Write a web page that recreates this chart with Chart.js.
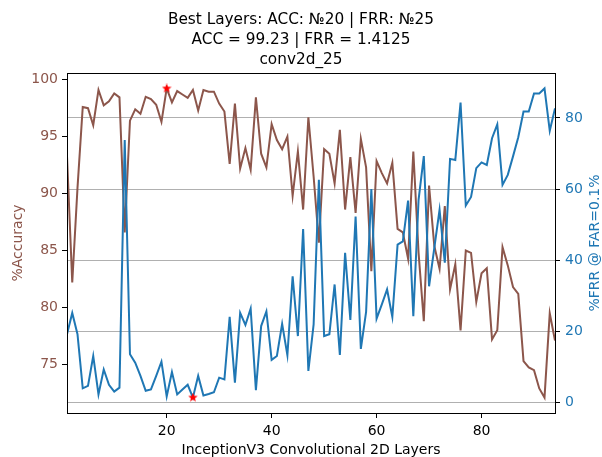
<!DOCTYPE html>
<html>
<head>
<meta charset="utf-8">
<script src="https://cdn.jsdelivr.net/npm/chart.js@4"></script>
<style>
  html, body { margin: 0; padding: 0; background: #ffffff; }
  #wrap { width: 602px; height: 457px; }
</style>
</head>
<body>
<div id="wrap"><canvas id="layersChart" width="602" height="457"></canvas></div>
<script>
const layers = [
  1, 2, 3, 4, 5, 6, 7, 8, 9, 10, 11, 12, 13, 14, 15, 16, 17, 18, 19, 20,
  21, 22, 23, 24, 25, 26, 27, 28, 29, 30, 31, 32, 33, 34, 35, 36, 37, 38, 39, 40,
  41, 42, 43, 44, 45, 46, 47, 48, 49, 50, 51, 52, 53, 54, 55, 56, 57, 58, 59, 60,
  61, 62, 63, 64, 65, 66, 67, 68, 69, 70, 71, 72, 73, 74, 75, 76, 77, 78, 79, 80,
  81, 82, 83, 84, 85, 86, 87, 88, 89, 90, 91, 92, 93, 94,
];

const accuracy = [
  93.3, 82.2, 90.5, 97.6, 97.5, 96.0, 99.1, 97.75, 98.1, 98.8,
  98.45, 86.6, 96.4, 97.4, 97.0, 98.5, 98.3, 97.8, 96.3, 99.23,
  98.0, 99.0, 98.7, 98.4, 99.1, 97.3, 99.1, 98.95, 98.95, 97.9,
  97.2, 92.6, 97.9, 92.2, 94.0, 92.1, 98.45, 93.5, 92.3, 96.1,
  94.7, 93.9, 95.0, 89.8, 93.7, 88.6, 96.7, 91.5, 85.7, 93.9,
  93.5, 90.9, 95.6, 88.6, 93.2, 88.3, 94.8, 92.3, 83.2, 92.85,
  91.8, 90.9, 92.7, 86.9, 86.6, 84.3, 93.7, 84.8, 78.8, 90.7,
  85.4, 83.4, 88.9, 81.6, 83.8, 78.0, 85.0, 84.8, 80.5, 83.0,
  83.45, 77.2, 78.0, 85.3, 83.7, 81.8, 81.2, 75.3, 74.75, 74.5,
  72.9, 72.1, 79.5, 77.1,
];

const frr = [
  19.2, 25.2, 19.2, 4.0, 4.7, 13.1, 2.3, 9.3, 5.0, 3.1,
  4.2, 73.8, 13.6, 11.2, 7.5, 3.3, 3.7, 7.5, 11.5, 1.7,
  8.6, 2.3, 3.7, 5.0, 1.4125, 7.5, 2.0, 2.4, 2.9, 7.0,
  6.5, 24.1, 5.6, 25.2, 21.8, 26.4, 3.5, 21.5, 25.6, 12.0,
  13.1, 22.1, 13.3, 35.5, 18.7, 48.8, 8.9, 22.0, 62.6, 18.7,
  19.2, 33.2, 13.4, 42.1, 23.2, 52.3, 15.1, 25.5, 60.0, 23.6,
  27.6, 31.8, 24.1, 44.4, 45.3, 56.8, 24.3, 57.0, 69.3, 32.7,
  43.5, 54.2, 39.3, 68.5, 68.2, 84.3, 55.4, 57.8, 65.9, 67.5,
  66.8, 74.3, 78.2, 61.2, 64.0, 69.2, 74.6, 81.8, 81.8, 86.9,
  86.9, 88.3, 76.4, 82.7,
];

const xTicks = [20, 40, 60, 80];
const accTicks = [75, 80, 85, 90, 95, 100];
const frrTicks = [0, 20, 40, 60, 80];

const titleLines = [
  "Best Layers: ACC: №20 | FRR: №25",
  "ACC = 99.23 | FRR = 1.4125",
  "conv2d_25",
];

(() => {
  const palette = {
    acc: "#8c564b",
    frr: "#1f77b4",
    best: "#ff0000",
    grid: "#b0b0b0",
    frame: "#000000",
  };
  const fontFamily = "'DejaVu Sans', sans-serif";

  // matplotlib style 5% margin around the data
  function paddedRange(values) {
    const lo = Math.min(...values);
    const hi = Math.max(...values);
    const pad = (hi - lo) * 0.05;
    return { min: lo - pad, max: hi + pad };
  }

  function makeStar(size, color) {
    const c = document.createElement("canvas");
    c.width = size;
    c.height = size;
    const g = c.getContext("2d");
    const r = size / 2;
    g.beginPath();
    for (let k = 0; k < 10; k++) {
      const ang = -Math.PI / 2 + (k * Math.PI) / 5;
      const rr = k % 2 ? r * 0.42 : r;
      g.lineTo(r + rr * Math.cos(ang), r + rr * Math.sin(ang));
    }
    g.closePath();
    g.fillStyle = color;
    g.fill();
    return c;
  }

  function fixedTicks(list) {
    return (scale) => {
      scale.ticks = list.map((v) => ({ value: v }));
    };
  }

  const bestAcc = accuracy.indexOf(Math.max(...accuracy));
  const bestFrr = frr.indexOf(Math.min(...frr));
  const accRange = paddedRange(accuracy);
  const frrRange = paddedRange(frr);
  const star = makeStar(10, palette.best);

  const framePlugin = {
    id: "frame",
    afterDraw(chart) {
      const { ctx, chartArea } = chart;
      ctx.save();
      ctx.strokeStyle = palette.frame;
      ctx.lineWidth = 1;
      ctx.strokeRect(
        Math.round(chartArea.left) + 0.5,
        Math.round(chartArea.top) + 0.5,
        Math.round(chartArea.right - chartArea.left),
        Math.round(chartArea.bottom - chartArea.top)
      );
      // right axis title reads bottom-to-top like matplotlib
      ctx.translate(595, (chartArea.top + chartArea.bottom) / 2);
      ctx.rotate(-Math.PI / 2);
      ctx.fillStyle = palette.frr;
      ctx.font = "14px " + fontFamily;
      ctx.textAlign = "center";
      ctx.textBaseline = "middle";
      ctx.fillText("%FRR @ FAR=0.1%", 0, 0);
      ctx.restore();
    },
  };

  const ctx = document.getElementById("layersChart").getContext("2d");
  new Chart(ctx, {
    type: "line",
    data: {
      datasets: [
        {
          label: "best",
          type: "scatter",
          data: [
            { x: layers[bestAcc], y: accuracy[bestAcc] },
          ],
          yAxisID: "y",
          pointStyle: star,
          pointRadius: 5,
          order: 0,
        },
        {
          label: "best frr",
          type: "scatter",
          data: [{ x: layers[bestFrr], y: frr[bestFrr] }],
          yAxisID: "y1",
          pointStyle: star,
          pointRadius: 5,
          order: 0,
        },
        {
          label: "%FRR",
          data: layers.map((l, i) => ({ x: l, y: frr[i] })),
          yAxisID: "y1",
          borderColor: palette.frr,
          backgroundColor: palette.frr,
          borderWidth: 2,
          pointRadius: 0,
          tension: 0,
          order: 1,
        },
        {
          label: "%Accuracy",
          data: layers.map((l, i) => ({ x: l, y: accuracy[i] })),
          yAxisID: "y",
          borderColor: palette.acc,
          backgroundColor: palette.acc,
          borderWidth: 2,
          pointRadius: 0,
          tension: 0,
          order: 2,
        },
      ],
    },
    options: {
      responsive: false,
      animation: false,
      layout: { padding: 0 },
      plugins: {
        legend: { display: false },
        tooltip: { enabled: false },
        title: {
          display: true,
          text: titleLines,
          color: "#000000",
          font: { family: fontFamily, size: 15.3, weight: "normal", lineHeight: 1.32 },
          padding: { top: 10, bottom: 2.4 },
        },
      },
      scales: {
        x: {
          type: "linear",
          min: 1,
          max: 94,
          afterBuildTicks: fixedTicks(xTicks),
          afterFit: (scale) => { scale.height = 44; },
          grid: { drawOnChartArea: false, drawTicks: true, tickLength: 5, tickColor: "#000" },
          border: { display: false },
          ticks: { color: "#000", padding: 5, font: { family: fontFamily, size: 14 } },
          title: {
            display: true,
            text: "InceptionV3 Convolutional 2D Layers",
            color: "#000",
            font: { family: fontFamily, size: 14, lineHeight: 1 },
            padding: { top: 0, bottom: 0 },
          },
        },
        y: {
          type: "linear",
          position: "left",
          min: accRange.min,
          max: accRange.max,
          afterBuildTicks: fixedTicks(accTicks),
          afterFit: (scale) => { scale.width = 67; },
          grid: { drawOnChartArea: false, drawTicks: true, tickLength: 5, tickColor: "#000" },
          border: { display: false },
          ticks: { color: palette.acc, padding: 4, font: { family: fontFamily, size: 14 } },
          title: {
            display: true,
            text: "%Accuracy",
            color: palette.acc,
            font: { family: fontFamily, size: 14, lineHeight: 1 },
            padding: { top: 11, bottom: 11 },
          },
        },
        y1: {
          type: "linear",
          position: "right",
          min: frrRange.min,
          max: frrRange.max,
          afterBuildTicks: fixedTicks(frrTicks),
          afterFit: (scale) => { scale.width = 47; },
          grid: {
            drawOnChartArea: true,
            color: palette.grid,
            lineWidth: 1,
            drawTicks: true,
            tickLength: 5,
            tickColor: "#000",
          },
          border: { display: false },
          ticks: { color: palette.frr, padding: 5, font: { family: fontFamily, size: 14 } },
        },
      },
    },
    plugins: [framePlugin],
  });
})();
</script>
</body>
</html>
